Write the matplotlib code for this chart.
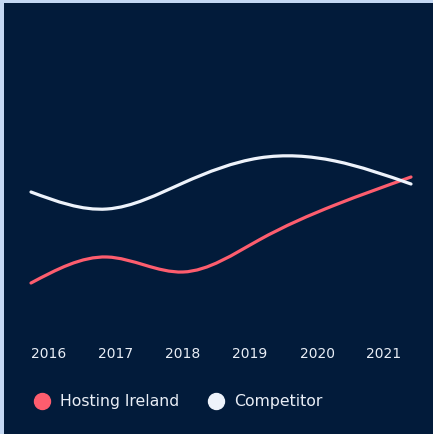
import matplotlib
import numpy as np

matplotlib.use("Agg")

import matplotlib.pyplot as plt
from matplotlib.lines import Line2D
from matplotlib.patches import PathPatch, Rectangle
from matplotlib.path import Path

YEARS = ["2016", "2017", "2018", "2019", "2020", "2021"]
HOSTING_IRELAND = [17, 43, 28, 60, 95, 123]
COMPETITOR = [108, 91, 117, 142, 139, 116]
SERIES = ["Hosting Ireland", "Competitor"]

BG = "#021b3a"
RED = "#fd5d6e"
WHITE = "#eef3fb"
TEXT = "#e9eef6"

plt.rcParams["font.family"] = ["DejaVu Sans"]

W, H = 433, 434
XSCALE = 76.0  # pixels per category step


def spline_path(xs, ys):
    # natural cubic spline through the points, drawn as bezier segments
    xs = np.asarray(xs, float)
    ys = np.asarray(ys, float)
    n = len(xs)
    h = xs[1] - xs[0]
    A = np.zeros((n, n))
    b = np.zeros(n)
    A[0, 0] = A[-1, -1] = 1
    for i in range(1, n - 1):
        A[i, i - 1], A[i, i], A[i, i + 1] = 1, 4, 1
        b[i] = 6 * (ys[i - 1] - 2 * ys[i] + ys[i + 1]) / h**2
    M = np.linalg.solve(A, b)
    d = np.zeros(n)
    for i in range(n - 1):
        d[i] = (ys[i + 1] - ys[i]) / h - h * (2 * M[i] + M[i + 1]) / 6
    d[-1] = (ys[-1] - ys[-2]) / h + h * (M[-2] + 2 * M[-1]) / 6
    verts = [(xs[0], ys[0])]
    codes = [Path.MOVETO]
    for i in range(n - 1):
        verts += [
            (xs[i] + h / 3, ys[i] + d[i] * h / 3),
            (xs[i + 1] - h / 3, ys[i + 1] - d[i + 1] * h / 3),
            (xs[i + 1], ys[i + 1]),
        ]
        codes += [Path.CURVE4] * 3
    return Path(verts, codes)


fig = plt.figure(figsize=(W / 100, H / 100), dpi=100, facecolor="#c4d8f3")
fig.patches.append(
    Rectangle((4 / W, -0.05), 1.2, (H - 3) / H + 0.05, transform=fig.transFigure,
              facecolor=BG, edgecolor="none", zorder=-10)
)
ax = fig.add_axes([4 / W, 0, (W - 4) / W, (H - 3) / H])
ax.patch.set_alpha(0)

x = np.arange(len(YEARS))
# 1 unit = 1 pixel vertically; first point at pixel 31 horizontally
x0 = (31 - 4) / XSCALE
ax.set_xlim(-x0, -x0 + (W - 4) / XSCALE)
ax.set_ylim(300 - H, 300 - 3)

for vals, col in [(HOSTING_IRELAND, RED), (COMPETITOR, WHITE)]:
    p = spline_path(x, vals)
    ax.add_patch(PathPatch(p, fill=False, edgecolor=col, lw=2.3, capstyle="round"))

# year labels sit on their own spacing under the chart
label_pos = (49 - 31) / XSCALE + x * (67 / XSCALE)
ax.set_xticks(label_pos)
ax.set_xticklabels(YEARS, color=TEXT, fontsize=10)
ax.tick_params(axis="x", length=0, pad=-63)
ax.set_yticks([])
for s in ax.spines.values():
    s.set_visible(False)

handles = [
    Line2D([], [], ls="", marker="o", ms=11.5, color=c, mec=c) for c in (RED, WHITE)
]
leg = ax.legend(
    handles,
    SERIES,
    loc="center left",
    bbox_to_anchor=(33.7 / W, (H - 401.7) / H),
    bbox_transform=fig.transFigure,
    ncol=2,
    frameon=False,
    borderpad=0,
    borderaxespad=0,
    handlelength=1.05,
    handletextpad=0.6,
    columnspacing=1.85,
    fontsize=11.3,
    labelcolor=TEXT,
)

fig.savefig("out.png", dpi=100, facecolor=fig.get_facecolor())
